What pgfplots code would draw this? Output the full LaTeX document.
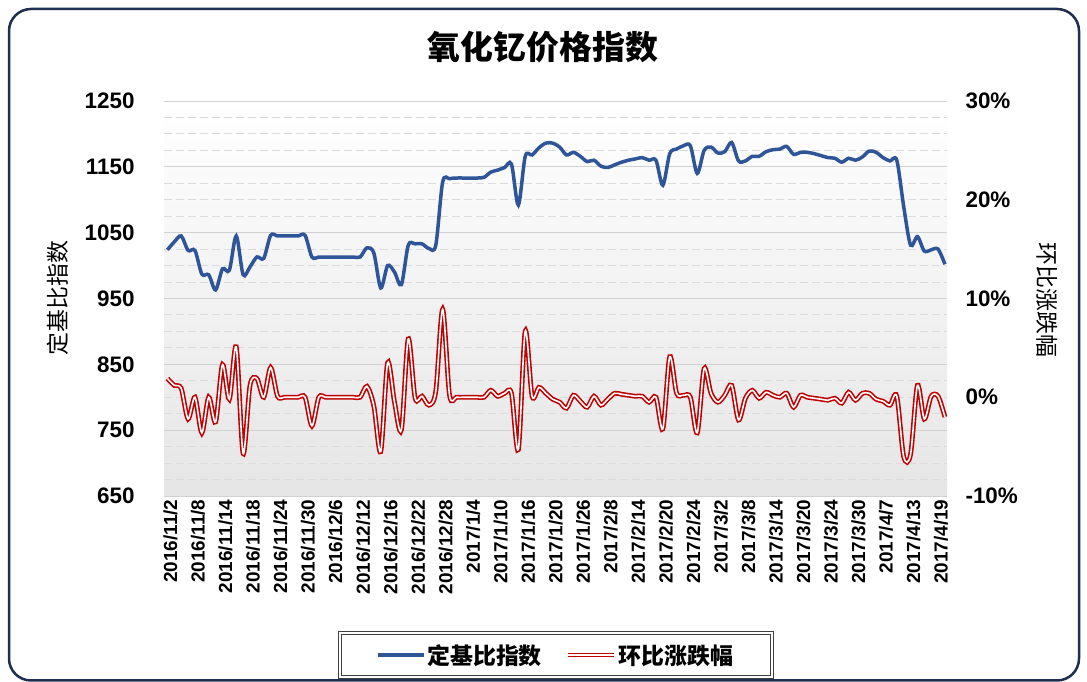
\documentclass[border=0pt]{standalone}
\usepackage{pgfplots}
\pgfplotsset{compat=1.18}
\usepackage{pgfplotstable}
\usepackage{fontspec}
\setmainfont{Liberation Sans}
\newfontfamily\cjk{Noto Sans CJK SC}
\definecolor{bluel}{HTML}{2E5597}
\definecolor{redl}{HTML}{C00000}
\definecolor{framec}{HTML}{1F2F4F}

\pgfplotstableread{
i v
0 1024
1 1036
2 1045
3 1023
4 1023
5 987
6 986
7 963
8 995
9 993
10 1045
11 986
12 998
13 1013
14 1011
15 1046
16 1045
17 1045
18 1045
19 1045
20 1046
21 1013
22 1013
23 1013
24 1013
25 1013
26 1013
27 1013
28 1013
29 1027
30 1019
31 966
32 1000
33 990
34 971
35 1031
36 1033
37 1033
38 1026
39 1031
40 1127
41 1132
42 1133
43 1133
44 1133
45 1133
46 1134
47 1142
48 1145
49 1149
50 1154
51 1092
52 1166
53 1168
54 1179
55 1186
56 1186
57 1180
58 1168
59 1172
60 1166
61 1158
62 1160
63 1151
64 1149
65 1153
66 1157
67 1160
68 1162
69 1164
70 1160
71 1160
72 1122
73 1170
74 1177
75 1182
76 1182
77 1140
78 1175
79 1180
80 1171
81 1173
82 1187
83 1159
84 1159
85 1166
86 1166
87 1173
88 1176
89 1177
90 1181
91 1169
92 1172
93 1172
94 1170
95 1167
96 1164
97 1163
98 1157
99 1163
100 1160
101 1165
102 1174
103 1172
104 1164
105 1159
106 1160
107 1090
108 1031
109 1044
110 1022
111 1024
112 1025
113 1002
}\tabA

\pgfplotstableread{
i v
0 1.9
1 1.2
2 0.9
3 -2.2
4 0.0
5 -3.6
6 0.0
7 -2.5
8 3.3
9 -0.2
10 5.1
11 -5.7
12 1.2
13 1.9
14 0.0
15 3.0
16 0.1
17 0.0
18 0.0
19 0.0
20 0.0
21 -2.9
22 0.0
23 0.0
24 0.0
25 0.0
26 0.0
27 0.0
28 0.0
29 1.1
30 -0.9
31 -5.5
32 3.5
33 -0.5
34 -3.3
35 5.9
36 -0.1
37 0.1
38 -0.8
39 0.6
40 8.9
41 0.2
42 0.0
43 0.0
44 0.0
45 0.0
46 0.0
47 0.7
48 0.1
49 0.4
50 0.4
51 -5.3
52 6.7
53 0.1
54 1.0
55 0.4
56 -0.2
57 -0.5
58 -1.1
59 0.2
60 -0.4
61 -1.0
62 0.1
63 -0.8
64 -0.2
65 0.4
66 0.3
67 0.2
68 0.1
69 0.1
70 -0.5
71 0.0
72 -3.2
73 4.1
74 0.4
75 0.2
76 0.0
77 -3.6
78 2.9
79 0.4
80 -0.5
81 0.2
82 1.2
83 -2.3
84 -0.1
85 0.7
86 -0.1
87 0.5
88 0.2
89 0.0
90 0.4
91 -1.0
92 0.2
93 0.0
94 -0.1
95 -0.2
96 -0.3
97 -0.1
98 -0.6
99 0.5
100 -0.3
101 0.4
102 0.4
103 -0.2
104 -0.4
105 -0.8
106 0.1
107 -6.0
108 -5.8
109 1.2
110 -2.2
111 0.1
112 0.1
113 -2.0
}\tabB

\begin{document}
\begin{tikzpicture}[x=1bp,y=1bp]
\path[use as bounding box] (0,0) rectangle (1087,682);
\fill[white] (0,0) rectangle (1087,682);
\draw[framec, line width=2.5bp, rounded corners=22bp] (9,1.5) rectangle (1079,673);

\node[font=\cjk\bfseries\fontsize{33}{33}\selectfont] at (543,635) {氧化钇价格指数};
\node[rotate=90, font=\cjk\fontsize{23}{23}\selectfont] at (58,384) {定基比指数};
\node[rotate=-90, font=\cjk\fontsize{23}{23}\selectfont] at (1047,382) {环比涨跌幅};

\begin{axis}[
  at={(164bp,186bp)}, anchor=south west,
  width=783bp, height=395bp, scale only axis,
  xmin=-0.5, xmax=113.3,
  ymin=650, ymax=1250,
  ytick={650,750,850,950,1050,1150,1250},
  yticklabels={650,750,850,950,1050,1150,1250},
  minor y tick num=3,
  ymajorgrids, yminorgrids,
  major grid style={draw=black!18, line width=0.9bp},
  minor grid style={draw=black!14, line width=0.9bp, dash pattern=on 8bp off 4bp},
  axis line style={draw=none},
  major tick length=0pt, minor tick length=0pt,
  xtick={0,4,...,112},
  xticklabels={2016/11/2,2016/11/8,2016/11/14,2016/11/18,2016/11/24,2016/11/30,2016/12/6,2016/12/12,2016/12/16,2016/12/22,2016/12/28,2017/1/4,2017/1/10,2017/1/16,2017/1/20,2017/1/26,2017/2/8,2017/2/14,2017/2/20,2017/2/24,2017/3/2,2017/3/8,2017/3/14,2017/3/20,2017/3/24,2017/3/30,2017/4/7,2017/4/13,2017/4/19},
  xticklabel style={rotate=90, anchor=east, yshift=-3bp, font=\bfseries\fontsize{19}{19}\selectfont},
  yticklabel style={xshift=-26bp, font=\bfseries\fontsize{22.5}{22.5}\selectfont},
  axis background/.style={top color=white, bottom color=black!10},
  /pgf/number format/assume math mode=true,
]
\addplot[bluel, line width=3.5bp, smooth, tension=0.5] table[x=i, y=v] {\tabA};
\end{axis}

\begin{axis}[
  at={(164bp,186bp)}, anchor=south west,
  width=783bp, height=395bp, scale only axis,
  xmin=-0.5, xmax=113.3,
  ymin=-10, ymax=30,
  axis y line*=right, axis x line=none,
  axis line style={draw=none},
  major tick length=0pt,
  ytick={-10,0,10,20,30},
  yticklabels={-10\%,0\%,10\%,20\%,30\%},
  yticklabel style={xshift=15bp, font=\bfseries\fontsize{22.5}{22.5}\selectfont},
  /pgf/number format/assume math mode=true,
  legend columns=2,
  legend style={at={(0.5,-0.4025)}, anchor=center, draw=none, fill=none,
    font=\cjk\bfseries\fontsize{23}{23}\selectfont,
    /tikz/every even column/.append style={column sep=22bp}},
  legend image code/.code={\draw[#1] (0bp,0bp) -- (46bp,0bp);},
]
\addlegendimage{bluel, line width=3.5bp}
\addlegendentry{定基比指数}
\addplot[redl, line width=1.6bp, double=white, double distance=1.6bp, smooth, tension=0.5] table[x=i, y=v] {\tabB};
\addlegendentry{环比涨跌幅}
\end{axis}

\draw[black!75, line width=0.8bp, double=white, double distance=1.6bp] (340,5) rectangle (772,49);
\end{tikzpicture}
\end{document}
